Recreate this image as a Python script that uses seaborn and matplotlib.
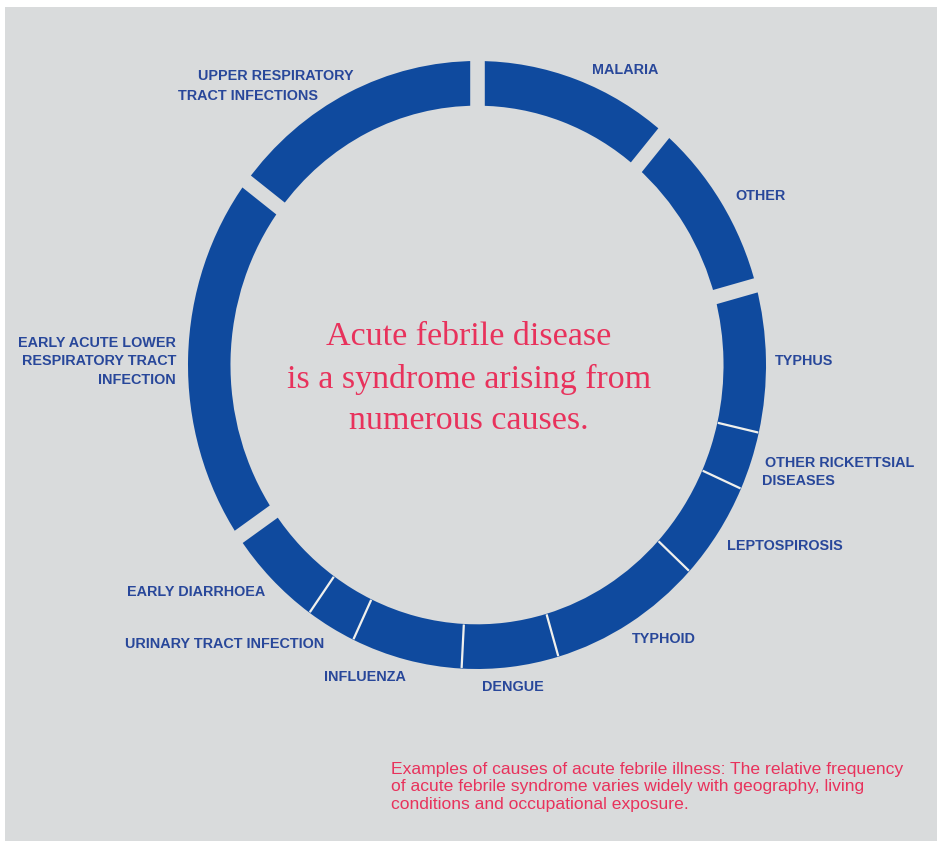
import numpy as np
import matplotlib
matplotlib.use("Agg")
import matplotlib.pyplot as plt
import seaborn as sns
from matplotlib.patches import Rectangle

# Causes of acute febrile illness, clockwise from the top
causes = [
    "MALARIA",
    "OTHER",
    "TYPHUS",
    "OTHER RICKETTSIAL\nDISEASES",
    "LEPTOSPIROSIS",
    "TYPHOID",
    "DENGUE",
    "INFLUENZA",
    "URINARY TRACT INFECTION",
    "EARLY DIARRHOEA",
    "EARLY ACUTE LOWER\nRESPIRATORY TRACT\nINFECTION",
    "UPPER RESPIRATORY\nTRACT INFECTIONS",
]
# Relative share of each cause (percent of the ring)
share = [11.2, 9.6, 7.8, 3.1, 5.2, 8.6, 5.4, 6.2, 2.8, 5.6, 19.9, 14.7]
# Whether a wide gap follows each cause (otherwise a thin rule)
wide_gap_after = [True, True, False, False, False, False, False, False, False, True, True, True]

headline = ["Acute febrile disease", "is a syndrome arising from", "numerous causes."]
caption = [
    "Examples of causes of acute febrile illness: The relative frequency",
    "of acute febrile syndrome varies widely with geography, living",
    "conditions and occupational exposure.",
]

# Label anchors in pixels: one (x, baseline y, alignment) per text line
label_lines_pos = [
    [(592, 74, "left")],
    [(735, 200, "left")],
    [(775, 365, "left")],
    [(765, 467, "left"), (762, 485, "left")],
    [(727, 550, "left")],
    [(632, 643, "left")],
    [(482, 691, "left")],
    [(324, 681, "left")],
    [(125, 648, "left")],
    [(127, 596, "left")],
    [(176, 347, "right"), (176, 365, "right"), (176, 384, "right")],
    [(198, 80, "left"), (178, 100, "left")],
]

W, H = 943, 841
BG = "#d9dbdc"
RING = "#0f4a9e"
LABEL = "#28479a"
RED = "#e8325c"
RING_WIDTH = 0.147

sns.set_theme(style="white")
plt.rcParams["font.family"] = ["Liberation Sans", "DejaVu Sans"]

fig = plt.figure(figsize=(W / 100, H / 100), dpi=100, facecolor="white")

# Full-figure pixel canvas for the panel and the texts
canvas = fig.add_axes([0, 0, 1, 1])
canvas.set_xlim(0, W)
canvas.set_ylim(H, 0)
canvas.axis("off")
canvas.add_patch(Rectangle((5, 7), 932, 834, facecolor=BG, edgecolor="none", zorder=0))

# Ring: centre (477, 365) px, radii 289 x 304 px
cx, cy, rx, ry = 477, 365, 289, 304
ring_ax = fig.add_axes([(cx - rx) / W, (H - cy - ry) / H, 2 * rx / W, 2 * ry / H])
ring_ax.patch.set_alpha(0)
wedges, _ = ring_ax.pie(
    share,
    startangle=90,
    counterclock=False,
    radius=1.0,
    colors=[RING] * len(share),
    wedgeprops=dict(width=RING_WIDTH, linewidth=0),
)
ring_ax.set_aspect("auto")
ring_ax.set_xlim(-1, 1)
ring_ax.set_ylim(-1, 1)
ring_ax.axis("off")

# Separators between the segments
bounds = 90 - 360 * np.cumsum(share) / np.sum(share)
for ang, wide in zip(bounds, wide_gap_after):
    t = np.deg2rad(ang)
    if wide:
        r = np.array([1 - RING_WIDTH - 0.03, 1.03])
    else:
        r = np.array([1 - RING_WIDTH + 0.002, 0.998])
    ring_ax.plot(
        r * np.cos(t), r * np.sin(t),
        color=BG if wide else "#f0f0ec",
        lw=10.5 if wide else 1.6,
        solid_capstyle="butt",
        zorder=5,
    )

# Segment labels
for name, lines_pos in zip(causes, label_lines_pos):
    for text, (x, y, ha) in zip(name.split("\n"), lines_pos):
        canvas.text(x, y, text, ha=ha, va="baseline", fontsize=10.4,
                    fontweight="bold", color=LABEL)

# Headline in the centre
for text, y in zip(headline, [345, 388, 429]):
    canvas.text(469, y, text, ha="center", va="baseline",
                fontsize=24.5, family=["Liberation Serif", "DejaVu Serif"], color=RED)

# Caption
for text, y in zip(caption, [774, 791.5, 809]):
    canvas.text(391, y, text, ha="left", va="baseline", fontsize=12.6, color=RED)

fig.savefig("out.png", dpi=100, facecolor="white")
